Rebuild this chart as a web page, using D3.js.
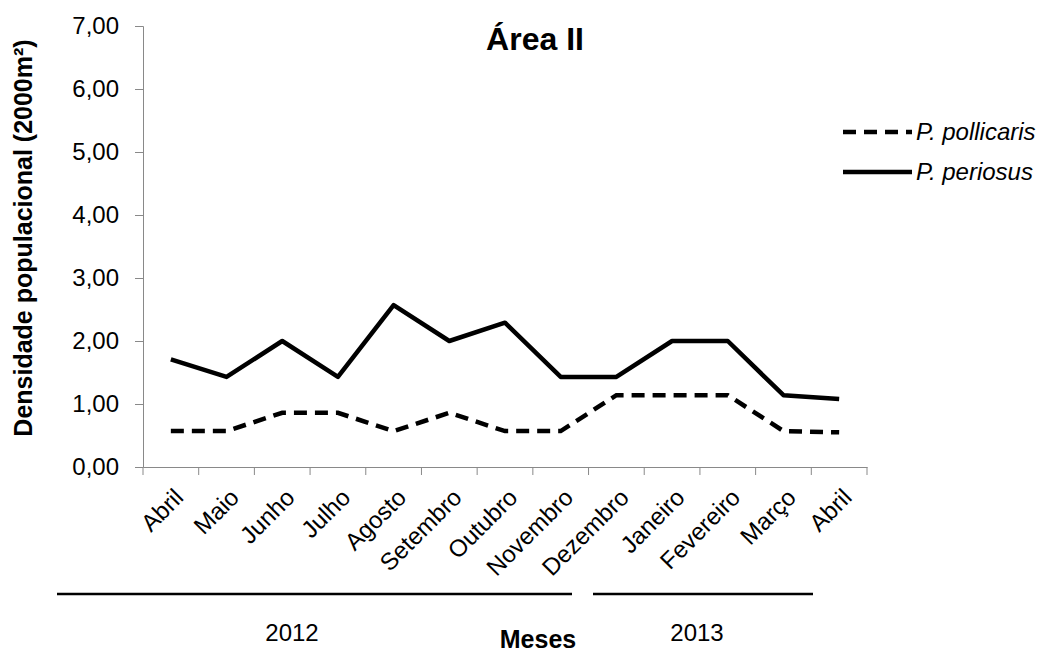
<!DOCTYPE html>
<html>
<head>
<meta charset="utf-8">
<script src="https://cdn.jsdelivr.net/npm/d3@7"></script>
<style>
  body { margin: 0; background: #fff; }
  text { font-family: "Liberation Sans", Arial, sans-serif; fill: #000; }
</style>
</head>
<body>
<script>
var width = 1050;
var height = 652;

var months = ['Abril', 'Maio', 'Junho', 'Julho', 'Agosto', 'Setembro', 'Outubro',
    'Novembro', 'Dezembro', 'Janeiro', 'Fevereiro', 'Março', 'Abril'];
var pollicaris = [0.57, 0.57, 0.86, 0.86, 0.57, 0.86, 0.57, 0.57, 1.14, 1.14, 1.14, 0.57, 0.55];
var periosus = [1.71, 1.43, 2.00, 1.43, 2.57, 2.00, 2.29, 1.43, 1.43, 2.00, 2.00, 1.14, 1.08];
var yTicks = [0, 1, 2, 3, 4, 5, 6, 7];

var plot = { left: 143, right: 867, top: 26, bottom: 467 };

// index based so the repeated "Abril" gets its own slot
var xScale = d3.scaleBand()
    .domain(d3.range(months.length))
    .range([plot.left, plot.right]);

var yScale = d3.scaleLinear()
    .domain([0, 7])
    .range([plot.bottom, plot.top]);

var svg = d3.select('body')
    .append('svg')
    .attr('width', width)
    .attr('height', height);

var fmt = function(d) { return d3.format('.2f')(d).replace('.', ','); };

var yAxis = svg.append('g')
    .attr('transform', 'translate(' + plot.left + ',0)')
    .call(d3.axisLeft(yScale).tickValues(yTicks).tickFormat(fmt).tickSize(8).tickPadding(16));
yAxis.selectAll('text').attr('font-size', 24).attr('fill', '#000').attr('font-family', '"Liberation Sans", Arial, sans-serif');

svg.append('g')
    .attr('transform', 'translate(0,' + plot.bottom + ')')
    .call(d3.axisBottom(xScale).tickFormat('').tickSize(0).tickSizeOuter(0));

// tick marks on band boundaries
svg.append('g')
    .selectAll('line')
    .data(d3.range(months.length + 1))
    .enter()
    .append('line')
    .attr('x1', function(d) { return plot.left + d * xScale.step(); })
    .attr('x2', function(d) { return plot.left + d * xScale.step(); })
    .attr('y1', plot.bottom)
    .attr('y2', plot.bottom + 8)
    .attr('stroke', '#898989');

svg.selectAll('.domain').attr('stroke', '#898989');
yAxis.selectAll('.tick line').attr('stroke', '#898989');

svg.append('g')
    .selectAll('text')
    .data(months)
    .enter()
    .append('text')
    .attr('font-size', 24)
    .attr('text-anchor', 'end')
    .attr('transform', function(d, i) {
        var x = xScale(i) + xScale.bandwidth() / 2 + 14;
        return 'translate(' + x + ',' + (plot.bottom + 32) + ') rotate(-45)';
    })
    .text(function(d) { return d; });

var line = d3.line()
    .x(function(d, i) { return xScale(i) + xScale.bandwidth() / 2; })
    .y(function(d) { return yScale(d); });

svg.append('path')
    .attr('d', line(pollicaris))
    .attr('fill', 'none')
    .attr('stroke', '#000')
    .attr('stroke-width', 4.5)
    .attr('stroke-dasharray', '13,8');

svg.append('path')
    .attr('d', line(periosus))
    .attr('fill', 'none')
    .attr('stroke', '#000')
    .attr('stroke-width', 4.5)
    .attr('stroke-linejoin', 'round');

// title
svg.append('text')
    .attr('x', 535)
    .attr('y', 50)
    .attr('text-anchor', 'middle')
    .attr('font-size', 32)
    .attr('font-weight', 'bold')
    .text('Área II');

// y label
svg.append('text')
    .attr('transform', 'translate(32,238) rotate(-90)')
    .attr('text-anchor', 'middle')
    .attr('font-size', 25)
    .attr('font-weight', 'bold')
    .text('Densidade populacional (2000m²)');

// legend
var legend = [
    { name: 'P. pollicaris', dash: '13,8', y: 132 },
    { name: 'P. periosus', dash: null, y: 172 }
];
var lg = svg.append('g')
    .selectAll('g')
    .data(legend)
    .enter()
    .append('g');
lg.append('line')
    .attr('x1', 843)
    .attr('x2', 912)
    .attr('y1', function(d) { return d.y; })
    .attr('y2', function(d) { return d.y; })
    .attr('stroke', '#000')
    .attr('stroke-width', 4.5)
    .attr('stroke-dasharray', function(d) { return d.dash; });
lg.append('text')
    .attr('x', 916)
    .attr('y', function(d) { return d.y + 8; })
    .attr('font-size', 24)
    .attr('font-style', 'italic')
    .text(function(d) { return d.name; });

// year brackets
var years = [
    { label: '2012', x1: 57, x2: 572, tx: 292 },
    { label: '2013', x1: 593, x2: 813, tx: 697 }
];
var yg = svg.append('g')
    .selectAll('g')
    .data(years)
    .enter()
    .append('g');
yg.append('line')
    .attr('x1', function(d) { return d.x1; })
    .attr('x2', function(d) { return d.x2; })
    .attr('y1', 594)
    .attr('y2', 594)
    .attr('stroke', '#000')
    .attr('stroke-width', 2.5);
yg.append('text')
    .attr('x', function(d) { return d.tx; })
    .attr('y', 641)
    .attr('text-anchor', 'middle')
    .attr('font-size', 24)
    .text(function(d) { return d.label; });

svg.append('text')
    .attr('x', 538)
    .attr('y', 648)
    .attr('text-anchor', 'middle')
    .attr('font-size', 25)
    .attr('font-weight', 'bold')
    .text('Meses');
</script>
</body>
</html>
